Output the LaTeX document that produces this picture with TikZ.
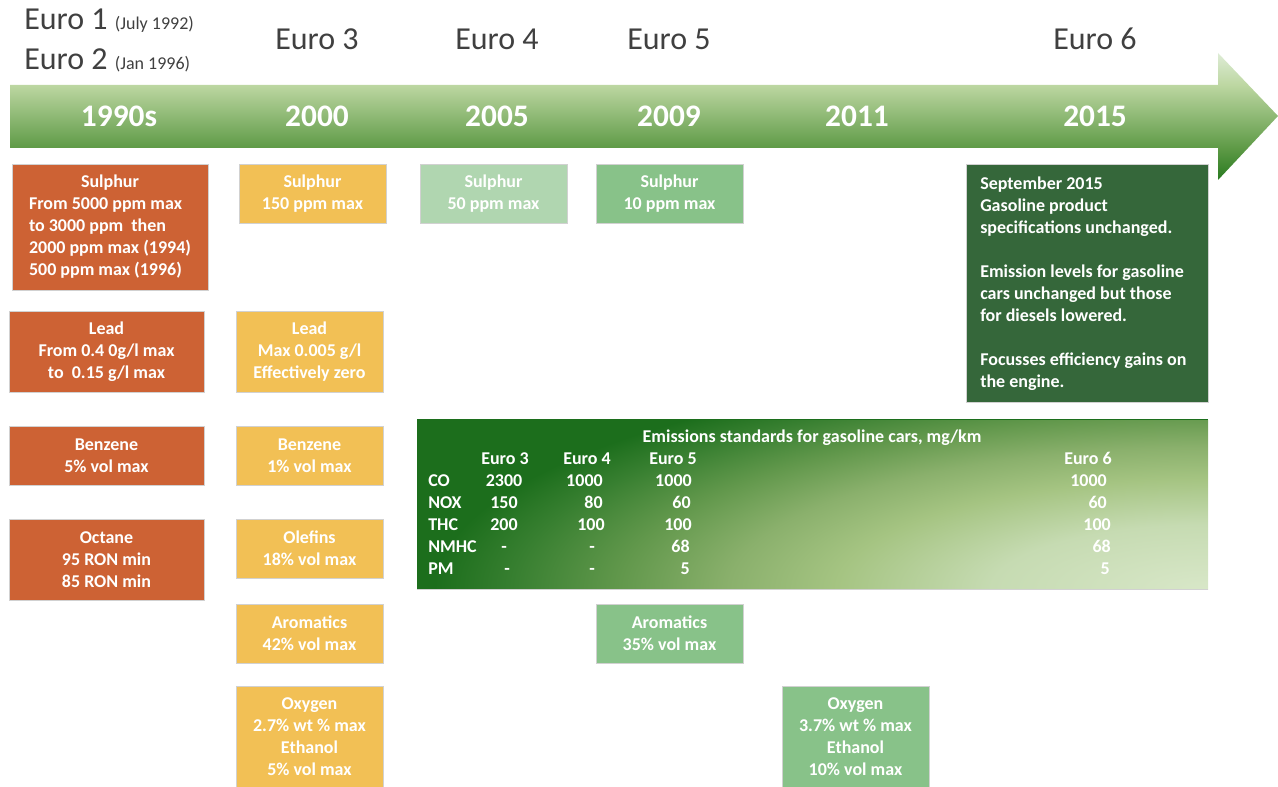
\documentclass[tikz,border=0pt]{standalone}
\usepackage{fontspec}
\setmainfont{Carlito}
\definecolor{orng}{RGB}{205,98,52}
\definecolor{yell}{RGB}{242,192,85}
\definecolor{lgrn}{RGB}{176,214,176}
\definecolor{mgrn}{RGB}{136,194,137}
\definecolor{dgrn}{RGB}{53,103,58}
\definecolor{tabdark}{RGB}{28,110,28}
\definecolor{tabr0}{RGB}{216,231,200}
\definecolor{tabr1}{RGB}{198,219,178}
\definecolor{tabr2}{RGB}{165,196,130}
\definecolor{tabr3}{RGB}{138,176,108}
\definecolor{tabr4}{RGB}{98,152,76}
\definecolor{tabr5}{RGB}{55,127,48}
\definecolor{arrtop}{RGB}{222,236,214}
\definecolor{arrbody}{RGB}{189,215,162}
\definecolor{arrbodyb}{RGB}{94,154,70}
\definecolor{arrbot}{RGB}{40,122,32}
\definecolor{labgray}{RGB}{64,64,64}
\pgfdeclareradialshading{tabglow}{\pgfpoint{0bp}{0bp}}{color(0bp)=(tabr0); color(7bp)=(tabr1); color(12bp)=(tabr2); color(15.5bp)=(tabr3); color(19bp)=(tabr4); color(22.5bp)=(tabr5); color(25bp)=(tabdark); color(50bp)=(tabdark)}
\pgfdeclareverticalshading{arrshade}{100bp}{color(0bp)=(arrbot); color(25bp)=(arrbot); color(37.5bp)=(arrbodyb); color(62.5bp)=(arrbody); color(75bp)=(arrtop); color(100bp)=(arrtop)}
\begin{document}
\begin{tikzpicture}[x=0.75pt,y=-0.75pt,
  bx/.style args={#1/#2}{draw=black!18, line width=0.4pt, inner sep=0pt,
    minimum width=0.75pt*#1, minimum height=0.75pt*#2, text=white, align=center,
    font=\bfseries\fontsize{13.5}{16.5}\selectfont},
  tb/.style={text=white, inner sep=0pt, text height=8.7pt, text depth=0pt,
    font=\bfseries\fontsize{13.5}{16.5}\selectfont},
  euro/.style={text=labgray, inner sep=0pt, anchor=base, font=\fontsize{24}{28}\selectfont},
  year/.style={text=white, inner sep=0pt, anchor=base, font=\bfseries\fontsize{23.5}{28}\selectfont}]
\useasboundingbox (0,0) rectangle (1278,787);
% arrow
\shade[shading=arrshade] (10,85) -- (1218,85) -- (1218,53) -- (1278,116) -- (1218,180) -- (1218,148) -- (10,148) -- cycle;
% euro labels
\node[euro, anchor=base west] (e1) at (24,30) {Euro 1 {\fontsize{13.5}{16}\selectfont (July 1992)}};
\node[euro, anchor=base west] (e2) at (24,70) {Euro 2 {\fontsize{13.5}{16}\selectfont (Jan 1996)}};
\node[euro] (e3) at (317,50) {Euro 3};
\node[euro] (e4) at (497,50) {Euro 4};
\node[euro] (e5) at (669,50) {Euro 5};
\node[euro] (e6) at (1095,50) {Euro 6};
% years
\node[year] (y90) at (119,127) {1990s};
\node[year] (y00) at (317,127) {2000};
\node[year] (y05) at (497,127) {2005};
\node[year] (y09) at (669,127) {2009};
\node[year] (y11) at (857,127) {2011};
\node[year] (y15) at (1095,127) {2015};
% 1990s
\node[bx=196/126, fill=orng] (s90) at (110,227) {\begin{tabular}{@{}l@{}}\multicolumn{1}{@{}c@{}}{Sulphur}\\From 5000 ppm max\\to 3000 ppm\ \ then\\2000 ppm max (1994)\\500 ppm max (1996)\end{tabular}};
\node[bx=195/81, fill=orng] (l90) at (106.5,351.5) {Lead\\From 0.4 0g/l max\\to\ \ 0.15 g/l max};
\node[bx=195/59, fill=orng] (b90) at (106.5,455.5) {Benzene\\5\% vol max};
\node[bx=195/81, fill=orng] (o90) at (106.5,559.5) {Octane\\95 RON min\\85 RON min};
% 2000
\node[bx=147/59, fill=yell] (s00) at (312.5,193.5) {Sulphur\\150 ppm max};
\node[bx=147/81, fill=yell] (l00) at (309.5,351.5) {Lead\\Max 0.005 g/l\\Effectively zero};
\node[bx=147/59, fill=yell] (b00) at (309.5,455.5) {Benzene\\1\% vol max};
\node[bx=147/59, fill=yell] (ol00) at (309.5,548.5) {Olefins\\18\% vol max};
\node[bx=147/59, fill=yell] (a00) at (309.5,633.5) {Aromatics\\42\% vol max};
\node[bx=147/101, fill=yell] (ox00) at (309.5,736.5) {Oxygen\\2.7\% wt \% max\\Ethanol\\5\% vol max};
% 2005 / 2009 / 2011
\node[bx=147/59, fill=lgrn] (s05) at (493.5,193.5) {Sulphur\\50 ppm max};
\node[bx=147/59, fill=mgrn] (s09) at (669.5,193.5) {Sulphur\\10 ppm max};
\node[bx=147/59, fill=mgrn] (a09) at (669.5,633.5) {Aromatics\\35\% vol max};
\node[bx=147/101, fill=mgrn] (ox11) at (855.5,736.5) {Oxygen\\3.7\% wt \% max\\Ethanol\\10\% vol max};
% Euro 6 box
\node[bx=242/238, fill=dgrn] (e6box) at (1087,283) {};
\node[text=white, inner sep=0pt, anchor=west, align=left, font=\bfseries\fontsize{13.5}{16.5}\selectfont] (e6txt) at (980,283.5)
 {September 2015\\Gasoline product\\specifications unchanged.\\[16.5pt]Emission levels for gasoline\\cars unchanged but those\\for diesels lowered.\\[16.5pt]Focusses efficiency gains on\\the engine.};
% table
\fill[tabdark] (417,419) rectangle (1208,589);
\begin{scope}
\clip (417,421) rectangle (1208,589);
\shade[shading=tabglow] (1208,589) ellipse [x radius=580pt, y radius=172pt];
\end{scope}
\node[bx=791/170, draw=none] (tab) at (812.5,504) {};
\draw[black!18, line width=0.6pt] (tab.south west) -- (tab.south east);
\node[tb] (th) at (812,437) {Emissions standards for gasoline cars, mg/km};
\node[tb] (h3) at (505,459) {Euro 3};
\node[tb] (h4) at (587,459) {Euro 4};
\node[tb] (h5) at (673,459) {Euro 5};
\node[tb] (h6) at (1088,459) {Euro 6};
\node[tb, anchor=west] (rco) at (428,481) {CO};
\node[tb, anchor=west] (rnox) at (428,503) {NOX};
\node[tb, anchor=west] (rthc) at (428,525) {THC};
\node[tb, anchor=west] (rnm) at (428,547) {NMHC};
\node[tb, anchor=west] (rpm) at (428,569) {PM};
\node[tb] at (504,481) {2300};
\node[tb] at (504,503) {150};
\node[tb] at (504,525) {200};
\node[tb] at (504,547) {-};
\node[tb] at (507,569) {-};
\node[tb, anchor=east] at (603,481) {1000};
\node[tb, anchor=east] at (603,503) {80};
\node[tb, anchor=east] at (605,525) {100};
\node[tb] at (592,547) {-};
\node[tb] at (592,569) {-};
\node[tb, anchor=east] at (692,481) {1000};
\node[tb, anchor=east] at (691,503) {60};
\node[tb, anchor=east] at (692,525) {100};
\node[tb, anchor=east] at (690,547) {68};
\node[tb, anchor=east] at (690,569) {5};
\node[tb, anchor=east] at (1107,481) {1000};
\node[tb, anchor=east] at (1107,503) {60};
\node[tb, anchor=east] at (1111,525) {100};
\node[tb, anchor=east] at (1111,547) {68};
\node[tb, anchor=east] at (1110,569) {5};
\end{tikzpicture}
\end{document}
